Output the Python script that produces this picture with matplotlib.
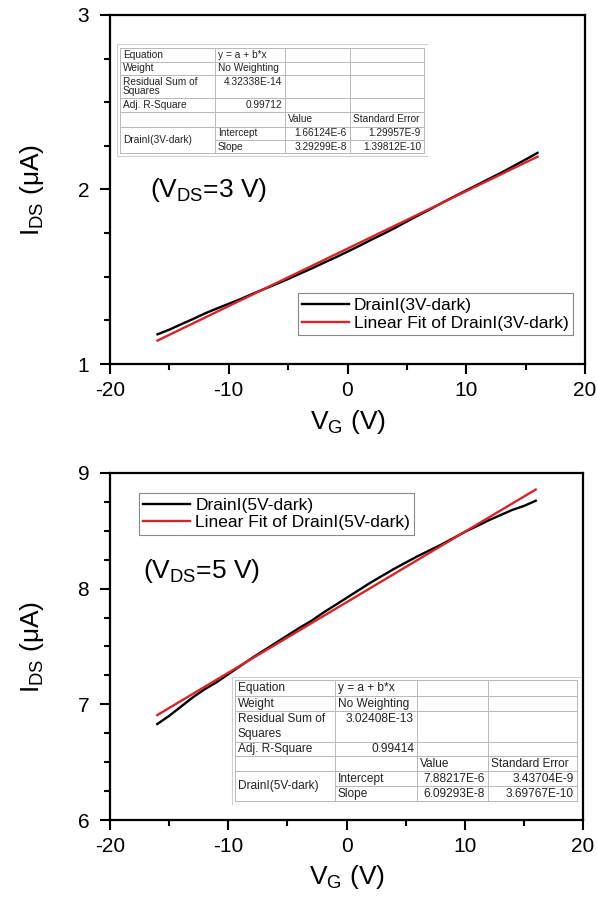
import numpy as np
import matplotlib
matplotlib.use("Agg")
import matplotlib.pyplot as plt
from matplotlib.patches import Rectangle
from matplotlib.ticker import MultipleLocator

plt.rcParams['font.family'] = ['Liberation Sans', 'DejaVu Sans']
plt.rcParams['mathtext.default'] = 'regular'
plt.rcParams['axes.unicode_minus'] = False

W, H = 597, 897

# gate voltage sweep (V)
vg = np.arange(-16, 17, 1)

# dark drain current at VDS = 3 V (uA)
ids_3v = [1.170, 1.197, 1.228, 1.258, 1.290, 1.318, 1.345, 1.372, 1.402, 1.430, 1.458,
          1.487, 1.518, 1.548, 1.580, 1.611, 1.644, 1.677, 1.712, 1.745, 1.780, 1.817,
          1.853, 1.888, 1.925, 1.960, 1.995, 2.029, 2.064, 2.098, 2.135, 2.172, 2.210]

# dark drain current at VDS = 5 V (uA)
ids_5v = [6.830, 6.900, 6.980, 7.060, 7.130, 7.190, 7.260, 7.330, 7.400, 7.465, 7.530,
          7.595, 7.660, 7.720, 7.790, 7.855, 7.920, 7.985, 8.050, 8.110, 8.170, 8.225,
          8.280, 8.330, 8.380, 8.435, 8.490, 8.540, 8.590, 8.635, 8.680, 8.715, 8.760]

# linear fit results (A, A/V) as reported by the fit
fit_3v = [1.66124e-6, 3.29299e-8]        # intercept, slope
fit_3v_err = [1.29957e-9, 1.39812e-10]
fit_3v_rss = 4.32338e-14
fit_3v_r2 = 0.99712

fit_5v = [7.88217e-6, 6.09293e-8]
fit_5v_err = [3.43704e-9, 3.69767e-10]
fit_5v_rss = 3.02408e-13
fit_5v_r2 = 0.99414


def sci(v):
    m, e = f"{v:.5E}".split("E")
    return f"{m}E{int(e)}"


def fit_table(fig, cols, rows, size, name, fit, err, rss, r2):
    # draws an Origin-style fit report; cols/rows are pixel edges
    x0, x1 = cols[0] - 4, cols[-1] + 4
    y0, y1 = rows[0] - 4, rows[-1] + 4
    tab = fig.add_axes([x0 / W, 1 - y1 / H, (x1 - x0) / W, (y1 - y0) / H])
    tab.set_xlim(x0, x1)
    tab.set_ylim(y1, y0)
    tab.axis('off')
    tab.add_patch(Rectangle((x0 + 0.5, y0 + 0.5), x1 - x0 - 1, y1 - y0 - 1,
                            facecolor='white', edgecolor='#d0d0d0', lw=0.8))
    grid = dict(color='#b8b8b8', lw=0.7)
    for i, y in enumerate(rows):
        start = cols[1] if i == 6 else cols[0]
        tab.plot([start, cols[-1]], [y, y], **grid)
    for x in cols:
        tab.plot([x, x], [rows[0], rows[-1]], **grid)

    pad = 3
    txt = dict(fontsize=size, color='#222222')

    def left(c, r, s, va='center', y=None):
        yy = (rows[r] + rows[r + 1]) / 2 if y is None else y
        tab.text(cols[c] + pad, yy, s, ha='left', va=va, **txt)

    def right(c, r, s, y=None):
        yy = (rows[r] + rows[r + 1]) / 2 if y is None else y
        tab.text(cols[c + 1] - pad, yy, s, ha='right', va='center', **txt)

    line_h = rows[1] - rows[0]
    left(0, 0, "Equation")
    left(1, 0, "y = a + b*x")
    left(0, 1, "Weight")
    left(1, 1, "No Weighting")
    left(0, 2, "Residual Sum of", y=rows[2] + line_h / 2)
    left(0, 2, "Squares", y=rows[3] - line_h / 2)
    right(1, 2, sci(rss), y=rows[2] + line_h / 2)
    left(0, 3, "Adj. R-Square")
    right(1, 3, f"{r2:.5f}")
    left(2, 4, "Value")
    left(3, 4, "Standard Error")
    left(0, 5, name, y=rows[6])
    left(1, 5, "Intercept")
    left(1, 6, "Slope")
    right(2, 5, sci(fit[0]))
    right(2, 6, sci(fit[1]))
    right(3, 5, sci(err[0]))
    right(3, 6, sci(err[1]))


def style_axes(ax, ymin, ymax):
    ax.set_xlim(-20, 20)
    ax.set_ylim(ymin, ymax)
    ax.xaxis.set_major_locator(MultipleLocator(10))
    ax.xaxis.set_minor_locator(MultipleLocator(5))
    ax.yaxis.set_major_locator(MultipleLocator(1))
    ax.yaxis.set_minor_locator(MultipleLocator(0.25))
    ax.tick_params(which='both', direction='out', width=1.5, top=False, right=False)
    ax.tick_params(which='major', length=7, labelsize=15)
    ax.tick_params(axis='x', which='major', pad=5)
    ax.tick_params(axis='y', which='major', pad=8)
    ax.tick_params(which='minor', length=4)
    for sp in ax.spines.values():
        sp.set_linewidth(1.6)
    ax.set_xlabel("V$_G$ (V)", fontsize=19)
    ax.set_ylabel("I$_{DS}$ (μA)", fontsize=19)
    ax.xaxis.set_label_coords(0.5, -0.125)
    ax.yaxis.set_label_coords(-0.135, 0.5)


fig = plt.figure(figsize=(W / 100, H / 100), dpi=100)

ax1 = fig.add_axes([110 / W, 1 - 364 / H, 475 / W, 349 / H])
ax2 = fig.add_axes([110 / W, 1 - 820 / H, 473 / W, 347 / H])

vfit = np.array([vg[0], vg[-1]])
for ax, ids, fit, tag in [(ax1, ids_3v, fit_3v, "3V"), (ax2, ids_5v, fit_5v, "5V")]:
    ax.plot(vg, ids, color='black', lw=1.7, label=f"DrainI({tag}-dark)")
    ax.plot(vfit, (fit[0] + fit[1] * vfit) * 1e6, color='#d9232a', lw=1.7,
            label=f"Linear Fit of DrainI({tag}-dark)")

style_axes(ax1, 1, 3)
style_axes(ax2, 6, 9)

leg_kw = dict(fontsize=12.5, fancybox=False, framealpha=1, edgecolor='#888888',
              handlelength=2.7, handletextpad=0.3, labelspacing=0.15,
              borderpad=0.25, borderaxespad=0)
l1 = ax1.legend(loc='lower right', bbox_to_anchor=(0.975, 0.083), **leg_kw)
l2 = ax2.legend(loc='upper left', bbox_to_anchor=(0.061, 0.942), **leg_kw)
for leg in (l1, l2):
    leg.get_frame().set_linewidth(0.8)

ax1.text(0.084, 0.479, "(V$_{DS}$=3 V)", transform=ax1.transAxes, fontsize=19,
         ha='left', va='baseline')
ax2.text(0.07, 0.697, "(V$_{DS}$=5 V)", transform=ax2.transAxes, fontsize=19,
         ha='left', va='baseline')

fit_table(fig, [120, 215, 285, 350, 424], [48, 62, 75, 98, 112, 127, 140, 153],
          7.3, "DrainI(3V-dark)", fit_3v, fit_3v_err, fit_3v_rss, fit_3v_r2)
fit_table(fig, [235, 335, 417, 488, 577], [680, 696, 711, 742, 756, 771, 786, 801],
          8.6, "DrainI(5V-dark)", fit_5v, fit_5v_err, fit_5v_rss, fit_5v_r2)

fig.savefig("out.png", dpi=100)
